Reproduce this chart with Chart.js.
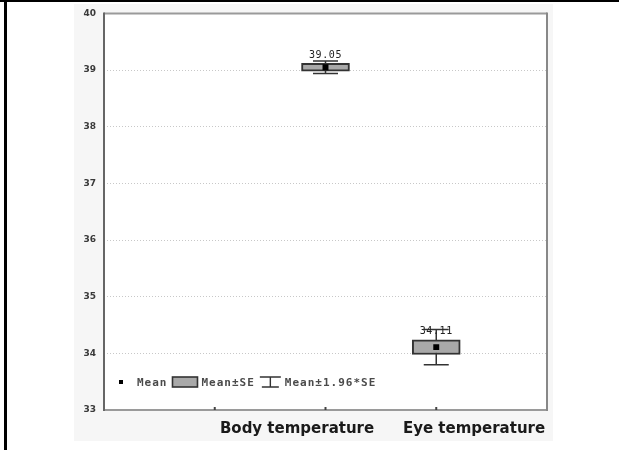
<!DOCTYPE html>
<html><head><meta charset="utf-8">
<script src="https://cdn.jsdelivr.net/npm/chart.js@4"></script>
<style>html,body{margin:0;padding:0;background:#fff}#wrap{position:relative;width:619px;height:450px}</style>
</head><body><div id="wrap"><canvas id="c" width="619" height="450"></canvas></div>
<script>
// ---- data ----
const categories = ['Body temperature', 'Eye temperature'];
const slots = ['s0', 's1', 's2', 's3', 's4'];   // x-axis category slots
const catSlot = ['s2', 's3'];                      // slot of each category
const means = [39.05, 34.11];
const se = [0.07, 0.13];
const ci = [0.11, 0.31];
const meanLabels = ['39.05', '34.11'];
const yMin = 33, yMax = 40;
const legendLabels = ['Mean', 'Mean±SE', 'Mean±1.96*SE'];

const boxData = catSlot.map((s, i) => ({ x: s, y: [means[i] - se[i], means[i] + se[i]] }));
const meanData = catSlot.map((s, i) => ({ x: s, y: means[i] }));

const decor = {
  id: 'decor',
  beforeDraw(chart) {
    const ctx = chart.ctx, a = chart.chartArea;
    ctx.save();
    ctx.fillStyle = '#fff'; ctx.fillRect(0, 0, chart.width, chart.height);
    ctx.fillStyle = '#f6f6f6'; ctx.fillRect(74, 4, 479, 437);
    ctx.fillStyle = '#fff'; ctx.fillRect(a.left, a.top, a.right - a.left, a.bottom - a.top);
    ctx.fillStyle = '#000';
    ctx.fillRect(0, 0, chart.width, 2);
    ctx.fillRect(4, 0, 3, chart.height);
    ctx.restore();
  },
  beforeDatasetsDraw(chart) {
    const ctx = chart.ctx, a = chart.chartArea, x = chart.scales.x, y = chart.scales.y;
    ctx.save();
    // plot frame
    ctx.lineWidth = 2;
    ctx.strokeStyle = '#9a9a9a';
    ctx.beginPath(); ctx.moveTo(a.left, a.top); ctx.lineTo(a.right, a.top); ctx.stroke();
    ctx.beginPath(); ctx.moveTo(a.left, a.bottom); ctx.lineTo(a.right, a.bottom); ctx.stroke();
    ctx.strokeStyle = '#888';
    ctx.beginPath(); ctx.moveTo(a.right, a.top - 1); ctx.lineTo(a.right, a.bottom + 1); ctx.stroke();
    ctx.strokeStyle = '#666';
    ctx.beginPath(); ctx.moveTo(a.left, a.top - 1); ctx.lineTo(a.left, a.bottom + 1); ctx.stroke();
    // tiny x ticks (inward)
    ctx.strokeStyle = '#444'; ctx.lineWidth = 2;
    [1, 2, 3].forEach(i => {
      const px = x.getPixelForValue(i);
      ctx.beginPath(); ctx.moveTo(px, a.bottom); ctx.lineTo(px, a.bottom - 3); ctx.stroke();
    });
    // whiskers (Mean±1.96*SE)
    ctx.strokeStyle = '#333'; ctx.lineWidth = 1.5;
    catSlot.forEach((s, i) => {
      const px = x.getPixelForValue(slots.indexOf(s));
      const top = y.getPixelForValue(means[i] + ci[i]);
      const bot = y.getPixelForValue(means[i] - ci[i]);
      ctx.beginPath();
      ctx.moveTo(px, top); ctx.lineTo(px, bot);
      ctx.moveTo(px - 12.5, top); ctx.lineTo(px + 12.5, top);
      ctx.moveTo(px - 12.5, bot); ctx.lineTo(px + 12.5, bot);
      ctx.stroke();
    });
    ctx.restore();
  },
  afterDatasetsDraw(chart) {
    const ctx = chart.ctx, a = chart.chartArea, x = chart.scales.x, y = chart.scales.y;
    ctx.save();
    // mean value labels
    ctx.font = '10px "DejaVu Sans Mono"';
    ctx.letterSpacing = '0.6px';
    ctx.fillStyle = '#222';
    ctx.textAlign = 'center'; ctx.textBaseline = 'middle';
    catSlot.forEach((s, i) => {
      const px = x.getPixelForValue(slots.indexOf(s));
      const top = y.getPixelForValue(means[i] + se[i]);
      ctx.fillText(meanLabels[i], px, top - 8);
    });
    // category labels
    ctx.letterSpacing = '0px';
    ctx.font = 'bold 15px "DejaVu Sans"';
    ctx.fillStyle = '#1a1a1a';
    const labelPos = [1.743, 3.341];
    categories.forEach((c, i) => {
      const px = x.getPixelForDecimal(labelPos[i] / (slots.length - 1));
      ctx.fillText(c, px, 429);
    });
    // legend inside plot
    const ly = a.bottom - 28;
    let lx = a.left + 17;
    ctx.font = 'bold 11px "DejaVu Sans Mono"';
    ctx.letterSpacing = '1px';
    ctx.textAlign = 'left';
    ctx.fillStyle = '#000';
    ctx.fillRect(lx - 2, ly - 2, 4, 4);
    lx += 16;
    ctx.fillStyle = '#4a4a4a';
    ctx.fillText(legendLabels[0], lx, ly + 1);
    lx += ctx.measureText(legendLabels[0]).width + 5;
    ctx.fillStyle = '#a9a9a9'; ctx.fillRect(lx, ly - 5, 25, 10);
    ctx.strokeStyle = '#333'; ctx.lineWidth = 1.6; ctx.strokeRect(lx, ly - 5, 25, 10);
    lx += 29;
    ctx.fillStyle = '#4a4a4a';
    ctx.fillText(legendLabels[1], lx, ly + 1);
    lx += ctx.measureText(legendLabels[1]).width + 5;
    ctx.strokeStyle = '#333'; ctx.lineWidth = 1.4;
    ctx.beginPath();
    ctx.moveTo(lx, ly - 5); ctx.lineTo(lx + 21, ly - 5);
    ctx.moveTo(lx + 10.5, ly - 5); ctx.lineTo(lx + 10.5, ly + 5);
    ctx.moveTo(lx + 2, ly + 5); ctx.lineTo(lx + 19, ly + 5);
    ctx.stroke();
    lx += 25;
    ctx.fillText(legendLabels[2], lx, ly + 1);
    ctx.restore();
  }
};

new Chart(document.getElementById('c'), {
  data: {
    labels: slots,
    datasets: [
      { type: 'bar', order: 2, data: boxData, backgroundColor: '#a9a9a9', borderColor: '#333',
        borderWidth: 2, borderSkipped: false, barThickness: 48 },
      { type: 'line', order: 1, data: meanData, showLine: false, pointStyle: 'rect', pointRadius: 4.2,
        backgroundColor: '#000', borderColor: '#000', borderWidth: 0 }
    ]
  },
  options: {
    responsive: false, devicePixelRatio: 1, animation: false,
    layout: { padding: { top: 12, right: 72, left: 0, bottom: 0 } },
    plugins: { legend: { display: false }, tooltip: { enabled: false } },
    scales: {
      x: { type: 'category', labels: slots, offset: false,
           grid: { display: false }, border: { display: false }, ticks: { display: false },
           afterFit(s) { s.height = 40; } },
      y: { min: yMin, max: yMax,
           ticks: { stepSize: 1, padding: 8, color: '#3a3a3a', font: { family: 'DejaVu Sans', size: 9, weight: 'bold' } },
           grid: { color: '#c8c8c8', lineWidth: 1, drawTicks: false },
           border: { display: false, dash: [1, 2] },
           afterFit(s) { s.width = 104; } }
    }
  },
  plugins: [decor]
});
</script></body></html>
